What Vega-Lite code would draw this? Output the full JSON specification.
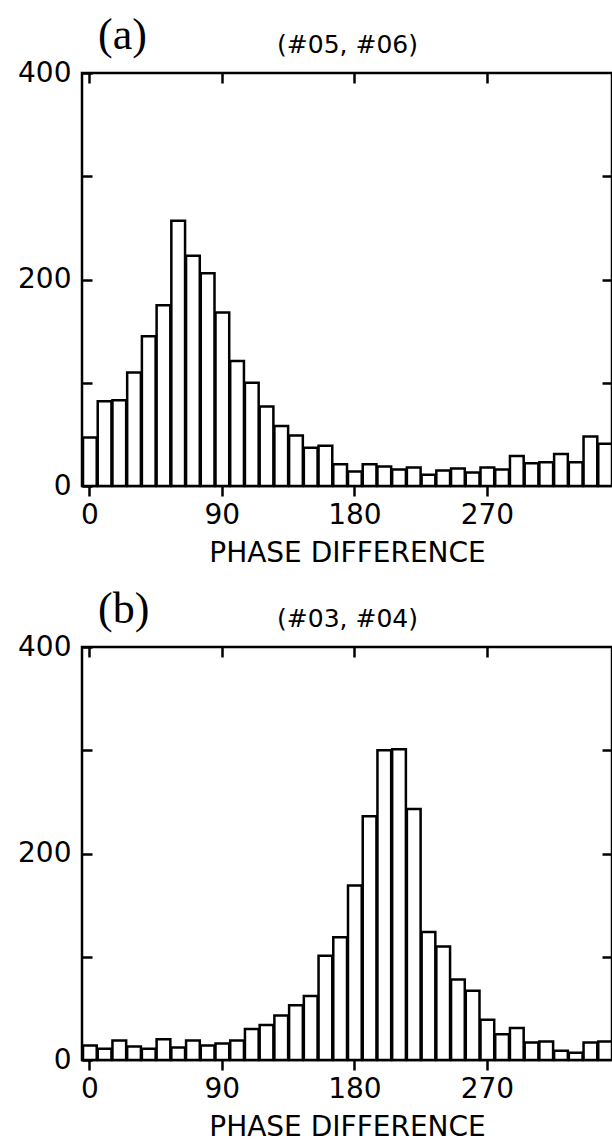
{
  "$schema": "https://vega.github.io/schema/vega-lite/v6.json",
  "padding": {"left": 16, "top": 12, "right": 0, "bottom": 0},
  "background": "white",
  "config": {
    "view": {"stroke": "black", "strokeWidth": 2.5},
    "axis": {"grid": false, "domain": false, "labelFont": "DejaVu Sans", "labelFontSize": 28, "labelColor": "black", "tickColor": "black", "tickWidth": 2.5, "titleFont": "DejaVu Sans", "titleFontSize": 28, "titleFontWeight": "normal", "titleColor": "black"},
    "title": {"font": "Liberation Serif", "fontSize": 44, "fontWeight": "normal", "anchor": "start", "color": "black"}
  },
  "spacing": 17,
  "vconcat": [
    {
      "title": {"text": "(a)", "anchor": "start", "frame": "group", "dx": 16, "offset": 0, "dy": 25},
      "width": 530, "height": 413,
      "data": {"values": [
        {"lo": -5, "hi": 5, "count": 47}, {"lo": 5, "hi": 15, "count": 82}, {"lo": 15, "hi": 25, "count": 83}, {"lo": 25, "hi": 35, "count": 110},
        {"lo": 35, "hi": 45, "count": 145}, {"lo": 45, "hi": 55, "count": 175}, {"lo": 55, "hi": 65, "count": 257}, {"lo": 65, "hi": 75, "count": 223},
        {"lo": 75, "hi": 85, "count": 206}, {"lo": 85, "hi": 95, "count": 168}, {"lo": 95, "hi": 105, "count": 121}, {"lo": 105, "hi": 115, "count": 100},
        {"lo": 115, "hi": 125, "count": 77}, {"lo": 125, "hi": 135, "count": 58}, {"lo": 135, "hi": 145, "count": 49}, {"lo": 145, "hi": 155, "count": 37},
        {"lo": 155, "hi": 165, "count": 39}, {"lo": 165, "hi": 175, "count": 21}, {"lo": 175, "hi": 185, "count": 14}, {"lo": 185, "hi": 195, "count": 21},
        {"lo": 195, "hi": 205, "count": 19}, {"lo": 205, "hi": 215, "count": 16}, {"lo": 215, "hi": 225, "count": 18}, {"lo": 225, "hi": 235, "count": 11},
        {"lo": 235, "hi": 245, "count": 15}, {"lo": 245, "hi": 255, "count": 17}, {"lo": 255, "hi": 265, "count": 13}, {"lo": 265, "hi": 275, "count": 18},
        {"lo": 275, "hi": 285, "count": 16}, {"lo": 285, "hi": 295, "count": 29}, {"lo": 295, "hi": 305, "count": 22}, {"lo": 305, "hi": 315, "count": 23},
        {"lo": 315, "hi": 325, "count": 31}, {"lo": 325, "hi": 335, "count": 23}, {"lo": 335, "hi": 345, "count": 48}, {"lo": 345, "hi": 355, "count": 41}
      ]},
      "layer": [
        {
          "mark": {"type": "bar", "fill": "white", "stroke": "black", "strokeWidth": 2.5},
          "encoding": {
            "x": {"field": "lo", "type": "quantitative", "bin": "binned", "scale": {"domain": [-5, 355], "nice": false, "zero": false},
                  "axis": {"orient": "bottom", "values": [0, 90, 180, 270], "tickSize": 10, "labelPadding": 5, "title": "PHASE DIFFERENCE", "titlePadding": 10}},
            "x2": {"field": "hi"},
            "y": {"field": "count", "type": "quantitative", "scale": {"domain": [0, 400], "nice": false},
                  "axis": {"orient": "left", "values": [0, 100, 200, 300, 400], "tickSize": -10, "labelPadding": 21, "title": null, "labelExpr": "datum.value % 200 === 0 ? datum.label : ''"}}
          }
        },
        {
          "mark": {"type": "bar", "opacity": 0},
          "encoding": {
            "x": {"field": "lo", "type": "quantitative", "bin": "binned", "scale": {"domain": [-5, 355], "nice": false, "zero": false},
                  "axis": {"orient": "top", "values": [0, 90, 180, 270], "tickSize": -10, "labels": false, "title": "(#05, #06)", "titleFontSize": 25, "titlePadding": 14}},
            "x2": {"field": "hi"},
            "y": {"field": "count", "type": "quantitative", "scale": {"domain": [0, 400], "nice": false},
                  "axis": {"orient": "right", "values": [100, 200, 300], "tickSize": -10, "labels": false, "title": null}}
          }
        }
      ],
      "resolve": {"axis": {"x": "independent", "y": "independent"}}
    },
    {
      "title": {"text": "(b)", "anchor": "start", "frame": "group", "dx": 16, "offset": 0, "dy": 25},
      "width": 530, "height": 413,
      "data": {"values": [
        {"lo": -5, "hi": 5, "count": 14}, {"lo": 5, "hi": 15, "count": 11}, {"lo": 15, "hi": 25, "count": 19}, {"lo": 25, "hi": 35, "count": 13},
        {"lo": 35, "hi": 45, "count": 11}, {"lo": 45, "hi": 55, "count": 20}, {"lo": 55, "hi": 65, "count": 12}, {"lo": 65, "hi": 75, "count": 19},
        {"lo": 75, "hi": 85, "count": 14}, {"lo": 85, "hi": 95, "count": 16}, {"lo": 95, "hi": 105, "count": 19}, {"lo": 105, "hi": 115, "count": 30},
        {"lo": 115, "hi": 125, "count": 34}, {"lo": 125, "hi": 135, "count": 43}, {"lo": 135, "hi": 145, "count": 53}, {"lo": 145, "hi": 155, "count": 62},
        {"lo": 155, "hi": 165, "count": 101}, {"lo": 165, "hi": 175, "count": 119}, {"lo": 175, "hi": 185, "count": 169}, {"lo": 185, "hi": 195, "count": 236},
        {"lo": 195, "hi": 205, "count": 300}, {"lo": 205, "hi": 215, "count": 301}, {"lo": 215, "hi": 225, "count": 243}, {"lo": 225, "hi": 235, "count": 124},
        {"lo": 235, "hi": 245, "count": 110}, {"lo": 245, "hi": 255, "count": 78}, {"lo": 255, "hi": 265, "count": 67}, {"lo": 265, "hi": 275, "count": 39},
        {"lo": 275, "hi": 285, "count": 25}, {"lo": 285, "hi": 295, "count": 31}, {"lo": 295, "hi": 305, "count": 17}, {"lo": 305, "hi": 315, "count": 18},
        {"lo": 315, "hi": 325, "count": 9}, {"lo": 325, "hi": 335, "count": 7}, {"lo": 335, "hi": 345, "count": 17}, {"lo": 345, "hi": 355, "count": 18}
      ]},
      "layer": [
        {
          "mark": {"type": "bar", "fill": "white", "stroke": "black", "strokeWidth": 2.5},
          "encoding": {
            "x": {"field": "lo", "type": "quantitative", "bin": "binned", "scale": {"domain": [-5, 355], "nice": false, "zero": false},
                  "axis": {"orient": "bottom", "values": [0, 90, 180, 270], "tickSize": 10, "labelPadding": 5, "title": "PHASE DIFFERENCE", "titlePadding": 10}},
            "x2": {"field": "hi"},
            "y": {"field": "count", "type": "quantitative", "scale": {"domain": [0, 400], "nice": false},
                  "axis": {"orient": "left", "values": [0, 100, 200, 300, 400], "tickSize": -10, "labelPadding": 21, "title": null, "labelExpr": "datum.value % 200 === 0 ? datum.label : ''"}}
          }
        },
        {
          "mark": {"type": "bar", "opacity": 0},
          "encoding": {
            "x": {"field": "lo", "type": "quantitative", "bin": "binned", "scale": {"domain": [-5, 355], "nice": false, "zero": false},
                  "axis": {"orient": "top", "values": [0, 90, 180, 270], "tickSize": -10, "labels": false, "title": "(#03, #04)", "titleFontSize": 25, "titlePadding": 14}},
            "x2": {"field": "hi"},
            "y": {"field": "count", "type": "quantitative", "scale": {"domain": [0, 400], "nice": false},
                  "axis": {"orient": "right", "values": [100, 200, 300], "tickSize": -10, "labels": false, "title": null}}
          }
        }
      ],
      "resolve": {"axis": {"x": "independent", "y": "independent"}}
    }
  ]
}
